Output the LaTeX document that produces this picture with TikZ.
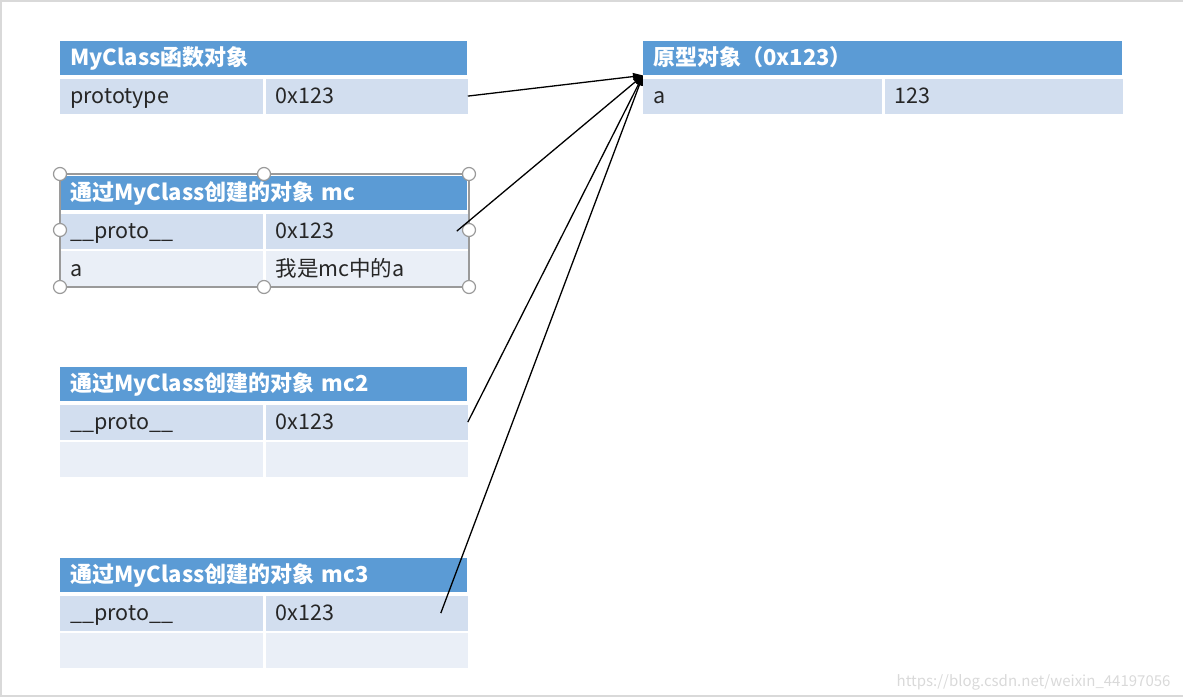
\documentclass[tikz,border=0pt]{standalone}
\usepackage{fontspec}
\setmainfont{Noto Sans CJK SC}
\usetikzlibrary{positioning,arrows.meta}
\definecolor{hdBlue}{HTML}{5B9BD5}
\definecolor{rowDark}{HTML}{D2DEEF}
\definecolor{rowLight}{HTML}{EAEFF7}
\definecolor{selGray}{HTML}{9A9A9A}
\definecolor{frameGray}{HTML}{D9D9D9}
\definecolor{txtDark}{HTML}{262626}

\tikzset{
  cell/.style={anchor=north west, inner xsep=10pt, inner ysep=0pt, minimum height=35pt,
    text height=18pt, text depth=3pt, align=left, text=txtDark, font=\fontsize{21.5}{25}\selectfont},
  head/.style={cell, fill=hdBlue, text=white, minimum height=34pt, text width=387pt,
    font=\fontsize{22}{26}\selectfont\bfseries},
  key/.style={cell, fill=rowDark, text width=183pt},
  val/.style={cell, fill=rowDark, text width=182pt},
  light/.style={fill=rowLight},
  ptr/.style={-{Triangle[length=10pt,width=7pt]}, line width=1.3pt, black},
  handle/.style={draw=selGray, fill=white, line width=1.2pt}
}

\begin{document}
\begin{tikzpicture}[x=1pt, y=-1pt]
  \useasboundingbox (0,0) rectangle (1183,699);
  \draw[frameGray, line width=1.5pt] (1183,1) -- (1,1) -- (1,696) -- (1183,696);

  \node[head] (fn-head) at (60,41) {MyClass函数对象};
  \node[key] (fn-key) at ([yshift=-3pt]fn-head.south west) {prototype};
  \node[val, right=2pt of fn-key] (fn-val) {0x123};

  \node[head] (mc-head) at (60,176) {通过MyClass创建的对象 mc};
  \node[key] (mc-key) at ([yshift=-3pt]mc-head.south west) {\_\_proto\_\_};
  \node[val, right=2pt of mc-key] (mc-val) {0x123};
  \node[key, light] (mc-key2) at ([yshift=-2pt]mc-key.south west) {a};
  \node[val, light, right=2pt of mc-key2] (mc-val2) {我是mc中的a};

  \node[head] (mc2-head) at (60,367) {通过MyClass创建的对象 mc2};
  \node[key] (mc2-key) at ([yshift=-3pt]mc2-head.south west) {\_\_proto\_\_};
  \node[val, right=2pt of mc2-key] (mc2-val) {0x123};
  \node[key, light] (mc2-key2) at ([yshift=-2pt]mc2-key.south west) {};
  \node[val, light, right=2pt of mc2-key2] (mc2-val2) {};

  \node[head] (mc3-head) at (60,558) {通过MyClass创建的对象 mc3};
  \node[key] (mc3-key) at ([yshift=-3pt]mc3-head.south west) {\_\_proto\_\_};
  \node[val, right=2pt of mc3-key] (mc3-val) {0x123};
  \node[key, light] (mc3-key2) at ([yshift=-2pt]mc3-key.south west) {};
  \node[val, light, right=2pt of mc3-key2] (mc3-val2) {};

  \node[head, text width=459pt] (proto-head) at (643,41) {原型对象（0x123）};
  \node[key, text width=219pt] (proto-key) at ([yshift=-3pt]proto-head.south west) {a};
  \node[val, text width=218pt, right=2pt of proto-key] (proto-val) {123};

  \draw[selGray, line width=1.2pt] (60,174) rectangle (469,287);
  \foreach \p in {(60,174),(264,174),(469,174),(60,230),(469,230),(60,287),(264,287),(469,287)}
    \draw[handle] \p circle (6.5pt);

  \draw[ptr] (fn-val.east) -- (proto-head.south west);
  \draw[ptr] ([xshift=-11pt]mc-val.east) -- (proto-head.south west);
  \draw[ptr] (mc2-val.east) -- (proto-head.south west);
  \draw[ptr] ([xshift=-27pt]mc3-val.east) -- (proto-head.south west);

  \node[anchor=base east, text=frameGray, font=\fontsize{15}{18}\selectfont] (mark) at (1174,686)
    {https://blog.csdn.net/weixin\_44197056};
\end{tikzpicture}
\end{document}
